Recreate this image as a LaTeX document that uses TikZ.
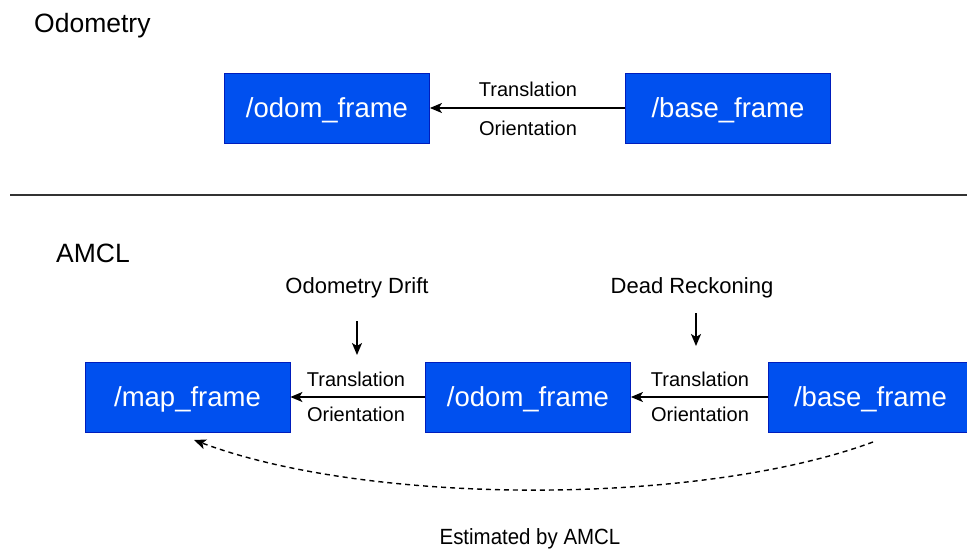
\documentclass[tikz,border=0pt]{standalone}
\usepackage{fontspec}
\setmainfont{Liberation Sans}
\usetikzlibrary{arrows.meta}
\definecolor{framefill}{HTML}{0050EF}
\definecolor{framedraw}{HTML}{001DBC}
\definecolor{rulegray}{HTML}{333333}
\begin{document}
\begin{tikzpicture}[x=1pt,y=-1pt,
  frame/.style={draw=framedraw,line width=0.8pt,fill=framefill,text=white,
    minimum width=205pt,minimum height=70pt,inner sep=0pt,
    text height=18pt,text depth=0pt,
    font=\fontsize{27.5}{30}\selectfont},
  title/.style={anchor=base west,inner sep=0pt,font=\fontsize{26.5}{30}\selectfont},
  tag/.style={inner sep=0pt,font=\fontsize{20}{24}\selectfont},
  note/.style={anchor=base,inner sep=0pt,font=\fontsize{22}{26}\selectfont},
  link/.style={line width=1.5pt,-{Stealth[length=12pt,width=10pt,inset=3pt]}},
  estimate/.style={line width=1.4pt,dash pattern=on 5pt off 4pt,
    -{Stealth[length=12pt,width=10pt,inset=3pt]}}]
\useasboundingbox (0,0) rectangle (967,549);

% ---- Odometry ----
\node[title] (odotitle) at (34,32) {Odometry};
\node[frame] (todom) at (327,108) {/odom\_frame};
\node[frame] (tbase) at (728,108) {/base\_frame};
\draw[link] (tbase.west) -- (todom.east);
\node[tag] (ttrans) at (528,89) {Translation};
\node[tag] (torient) at (528,128) {Orientation};

% divider
\coordinate (divL) at (10,195);
\coordinate (divR) at (967,195);
\draw[rulegray,line width=2pt] (divL) -- (divR);

% ---- AMCL ----
\node[title] (amcltitle) at (56,262) {AMCL};
\node[frame] (map) at (187.5,397) {/map\_frame};
\node[frame] (odom) at (528,397) {/odom\_frame};
\node[frame] (base) at (870.5,397) {/base\_frame};
\draw[link] (odom.west) -- (map.east);
\draw[link] (base.west) -- (odom.east);
\node[tag] (trans1) at (356,379) {Translation};
\node[tag] (orient1) at (356,414) {Orientation};
\node[tag] (trans2) at (700,379) {Translation};
\node[tag] (orient2) at (700,414) {Orientation};

\node[note] (drift) at (357,293) {Odometry Drift};
\node[note] (dead) at (692,293) {Dead Reckoning};
\coordinate (driftA) at (357,321);
\coordinate (driftB) at (357,355);
\coordinate (deadA) at (696,313);
\coordinate (deadB) at (696,346);
\draw[link] (driftA) -- (driftB);
\draw[link] (deadA) -- (deadB);

\coordinate (estS) at (873,442);
\coordinate (estE) at (194,440);
\draw[estimate] (estS) .. controls (700,506) and (370,506) .. (estE);
\node[note] (estlabel) at (530,544.3) {\scalebox{0.93}[1]{Estimated by AMCL}};
\end{tikzpicture}
\end{document}
